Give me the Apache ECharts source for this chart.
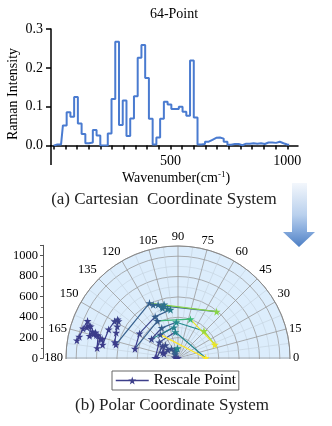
<!DOCTYPE html>
<html><head><meta charset="utf-8">
<script src="https://cdn.jsdelivr.net/npm/echarts@6/dist/echarts.min.js"></script>
<style>html,body{margin:0;padding:0;background:#fff}#c{width:332px;height:426px}</style>
</head><body><div id="c"></div>
<script>
// ---- data ----
const wavenumbers = [0,16,32,48,64,80,96,112,128,144,160,176,192,208,224,240,256,272,288,304,320,336,352,368,384,400,416,432,448,464,480,496,512,528,544,560,576,592,608,624,640,656,672,688,704,720,736,752,768,784,800,816,832,848,864,880,896,912,928,944,960,976,992,1008];
const intensity = [0.000,0.003,0.003,0.052,0.086,0.074,0.125,0.057,0.030,0.006,
                   0.008,0.040,0.026,0.000,0.000,0.031,0.120,0.267,0.053,0.116,
                   0.025,0.070,0.127,0.226,0.259,0.174,0.069,0.003,0.021,0.069,
                   0.113,0.106,0.094,0.094,0.100,0.087,0.077,0.219,0.072,0.003,
                   0.004,0.010,0.015,0.020,0.021,0.018,0.010,0.002,0.004,0.004,
                   0.001,0.005,0.005,0.006,0.005,0.006,0.004,0.008,0.008,0.007,
                   0.010,0.006,0.003,0.002];
const xTickLabels = [500, 1000];
const xTicks = [0,50,100,150,200,250,300,350,400,450,500,550,600,650,700,750,800,850,900,950,1000];
const angleMaxLabel = 180;
const seriesName = 'Rescale Point';

// ---- polar rescaling (arccos of min-max rescaled intensity, radius = wavenumber) ----
const imin = Math.min(...intensity), imax = Math.max(...intensity);
const norm = intensity.map(v => (v - imin) / (imax - imin));
const angles = norm.map(t => Math.acos(Math.max(-1, Math.min(1, 2 * t - 1))) * 180 / Math.PI);

const stops = [[0,'#3b3a8a'],[0.2,'#3b528b'],[0.37,'#2c728e'],[0.5,'#21918c'],[0.64,'#35b779'],[0.8,'#7ad151'],[0.9,'#bddf26'],[1,'#fde725']];
function hex2rgb(h){return [parseInt(h.slice(1,3),16),parseInt(h.slice(3,5),16),parseInt(h.slice(5,7),16)];}
function cmap(t){
  for (let k=0;k<stops.length-1;k++){
    const [t0,c0]=stops[k],[t1,c1]=stops[k+1];
    if (t<=t1){const f=(t-t0)/(t1-t0);const a=hex2rgb(c0),b=hex2rgb(c1);
      return 'rgb('+a.map((x,j)=>Math.round(x+(b[j]-x)*f)).join(',')+')';}
  }
  return stops[stops.length-1][1];
}
const colors = norm.map(cmap);

const SERIF = 'Liberation Serif';
const STAR = 'path://M50,0 L61,35 L98,35 L68,57 L79,91 L50,70 L21,91 L32,57 L2,35 L39,35 Z';

const series = [];
series.push({
  type:'line', xAxisIndex:0, yAxisIndex:0,
  data: wavenumbers.map((w,i)=>[w, intensity[i]]),
  step:'middle', symbol:'none', silent:true,
  lineStyle:{color:'#4a7bd0', width:2}
});
for (let i=0;i<wavenumbers.length-1;i++){
  series.push({
    type:'line', coordinateSystem:'polar', polarIndex:0, name:'seg'+i,
    data:[[wavenumbers[i], angles[i]],[wavenumbers[i+1], angles[i+1]]],
    symbol:'none', silent:true, z:3,
    lineStyle:{color:colors[i], width:1.2}
  });
}
series.push({
  type:'line', coordinateSystem:'polar', polarIndex:0, name:seriesName,
  data: wavenumbers.map((w,i)=>({value:[w, angles[i]], itemStyle:{color:colors[i]}})),
  symbol: STAR, symbolSize: 8, z:4,
  lineStyle:{opacity:0}
});

const chart = echarts.init(document.getElementById('c'));
chart.setOption({
  animation:false,
  backgroundColor:'#fff',
  textStyle:{fontFamily:SERIF},
  grid:[
    {left:51, top:29, width:247, height:116.6},
    {left:43, top:245.3, width:1, height:113}
  ],
  xAxis:[
    {type:'value', gridIndex:0, min:-11, max:1046,
     axisLine:{show:true, onZero:false, lineStyle:{color:'#000', width:1.5}},
     axisTick:{show:true, customValues:xTicks, length:4, lineStyle:{color:'#000', width:1.5}},
     axisLabel:{customValues:xTickLabels, formatter:v=>String(v), margin:9, fontFamily:SERIF, fontSize:14, color:'#000'},
     splitLine:{show:false}},
    {type:'value', gridIndex:1, show:false}
  ],
  yAxis:[
    {type:'value', gridIndex:0, min:0, max:0.3, interval:0.1,
     axisLine:{show:true, onZero:false, lineStyle:{color:'#000', width:1.5}},
     axisTick:{show:true, length:5, lineStyle:{color:'#000', width:1.5}},
     axisLabel:{formatter:v=>v.toFixed(1), margin:8, fontFamily:SERIF, fontSize:14, color:'#000'},
     splitLine:{show:false}},
    {type:'value', gridIndex:1, min:0, max:1100, interval:200,
     axisLine:{show:true, onZero:false, lineStyle:{color:'#555', width:1}},
     axisTick:{show:true, length:3, lineStyle:{color:'#555'}},
     minorTick:{show:true, splitNumber:2, length:2, lineStyle:{color:'#777'}},
     axisLabel:{formatter:v=>String(v), margin:5, fontFamily:SERIF, fontSize:12.5, color:'#000'},
     splitLine:{show:false}}
  ],
  polar:{center:[178,358], radius:112},
  angleAxis:{type:'value', min:0, max:360, interval:15, startAngle:0, clockwise:false, z:2,
    axisLine:{show:true, lineStyle:{color:'#888', width:1}},
    axisTick:{show:false},
    minorTick:{show:false, splitNumber:2},
    axisLabel:{margin:3, fontFamily:SERIF, fontSize:12.5, color:'#000', formatter:v=>(v<=angleMaxLabel?String(v):'')},
    splitLine:{show:true, lineStyle:{color:'#9a9a9a', width:0.8}},
    minorSplitLine:{show:true, lineStyle:{color:'#c3d0dc', width:0.6}},
    splitArea:{show:false}
  },
  radiusAxis:{type:'value', min:0, max:1100, interval:200, z:1,
    axisLine:{show:false}, axisTick:{show:false}, axisLabel:{show:false},
    minorTick:{show:false, splitNumber:2},
    splitLine:{show:true, lineStyle:{color:'#9a9a9a', width:0.8}},
    minorSplitLine:{show:true, lineStyle:{color:'#c3d0dc', width:0.6}}
  },
  legend:{
    z:20,
    data:[{name:seriesName, itemStyle:{color:'#3d3f8a'}, lineStyle:{color:'#3d3f8a', width:1.5, opacity:1}}],
    left:112, top:371, itemWidth:33, itemHeight:10, itemGap:5,
    padding:[2,3], borderColor:'#666', borderWidth:1, borderRadius:0, backgroundColor:'#fff',
    textStyle:{fontFamily:SERIF, fontSize:15, color:'#000'}
  },
  graphic:[
    {type:'circle', z:-1, shape:{cx:178, cy:358, r:112}, style:{fill:'#dcedfc'}},
    {type:'rect', z:5, shape:{x:62, y:359, width:232, height:120}, style:{fill:'#fff'}},
    {type:'line', z:5, shape:{x1:51, y1:145, x2:51, y2:165}, style:{stroke:'#000', lineWidth:1.5}},
    {type:'text', z:10, x:174, y:14, style:{text:'64-Point', font:'14px "Liberation Serif"', fill:'#000', align:'center', verticalAlign:'middle'}},
    {type:'text', z:10, x:13, y:94, rotation:Math.PI/2, style:{text:'Raman Intensity', font:'14px "Liberation Serif"', fill:'#000', align:'center', verticalAlign:'middle'}},
    {type:'text', z:10, x:176, y:178, style:{text:'Wavenumber(cm{s|-1})', font:'14px "Liberation Serif"', fill:'#000', align:'center', verticalAlign:'middle', lineHeight:16,
       rich:{s:{fontFamily:SERIF, fontSize:9, verticalAlign:'top', fill:'#000'}}}},
    {type:'text', z:10, x:164, y:200, style:{text:'(a) Cartesian  Coordinate System', font:'17px "Liberation Serif"', fill:'#222', align:'center', verticalAlign:'middle'}},
    {type:'text', z:10, x:172, y:406, style:{text:'(b) Polar Coordinate System', font:'17px "Liberation Serif"', fill:'#222', align:'center', verticalAlign:'middle'}},
    {type:'polygon', z:10, shape:{points:[[292,183],[307,183],[307,232],[315,232],[299,247],[283,232],[292,232]]},
     style:{fill:new echarts.graphic.LinearGradient(0,0,0,1,[{offset:0,color:'#f3f7fc'},{offset:0.5,color:'#b9d0ed'},{offset:0.75,color:'#84a9dc'},{offset:1,color:'#4d7fc4'}])}}
  ],
  series: series
});
</script></body></html>
